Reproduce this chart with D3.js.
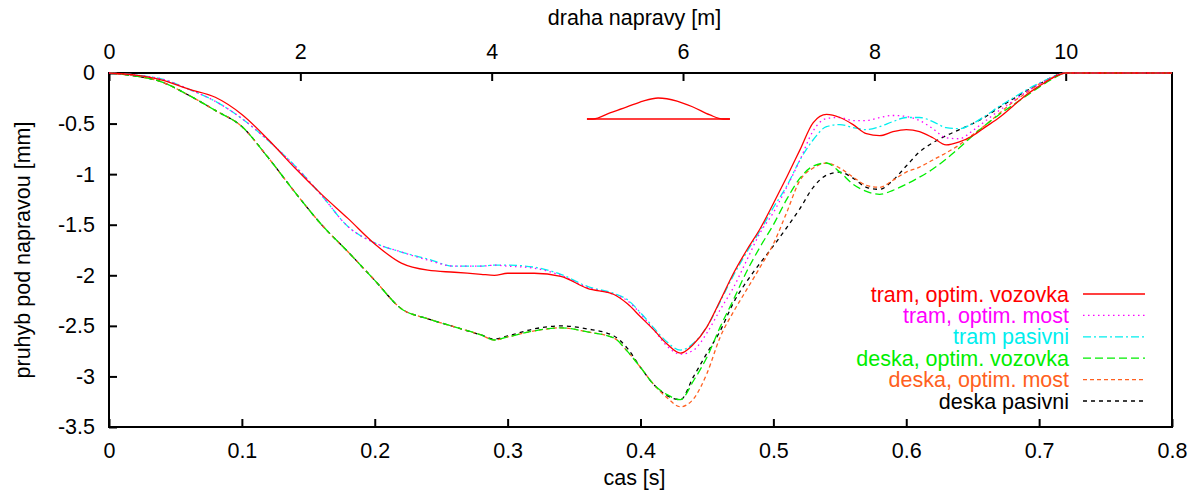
<!DOCTYPE html>
<html>
<head>
<meta charset="utf-8">
<script src="https://cdn.jsdelivr.net/npm/d3@7.9.0/dist/d3.min.js"></script>
<style>
  html, body { margin: 0; padding: 0; background: #fff; }
  svg { display: block; font-family: "Liberation Sans", Arial, sans-serif; }
</style>
</head>
<body>
<svg id="chart" width="1190" height="490"></svg>
<script>
// cas [s]
const cas = [0, 0.02, 0.04, 0.06, 0.08, 0.10, 0.12, 0.14, 0.16, 0.18, 0.20, 0.22, 0.24, 0.26, 0.28,
  0.29, 0.30, 0.32, 0.34, 0.36, 0.38, 0.39, 0.40, 0.41, 0.42,
  0.43, 0.44, 0.45, 0.46, 0.47, 0.48, 0.49, 0.50, 0.51, 0.52, 0.53, 0.54, 0.55, 0.56, 0.57,
  0.58, 0.59, 0.60, 0.61, 0.62, 0.63, 0.64, 0.65, 0.66, 0.67, 0.68, 0.69, 0.70, 0.71, 0.72,
  0.76, 0.80];

// pruhyb pod napravou [mm]
const tramVozovka = [0, -0.02, -0.07, -0.16, -0.24, -0.41, -0.66, -0.94, -1.20, -1.44, -1.69, -1.88, -1.95, -1.97, -1.99,
  -2.00, -1.98, -1.98, -2.01, -2.13, -2.19, -2.28, -2.41, -2.54, -2.68,
  -2.77, -2.68, -2.51, -2.25, -1.98, -1.75, -1.54, -1.29, -1.03, -0.76, -0.49, -0.41, -0.44, -0.51, -0.60,
  -0.62, -0.58, -0.56, -0.58, -0.64, -0.71, -0.68, -0.62, -0.53, -0.44, -0.33, -0.22, -0.13, -0.05, 0,
  0, 0];
const tramMost = [0, -0.02, -0.06, -0.16, -0.28, -0.45, -0.67, -0.92, -1.21, -1.52, -1.68, -1.77, -1.85, -1.91, -1.91,
  -1.90, -1.91, -1.93, -2.00, -2.12, -2.19, -2.25, -2.38, -2.54, -2.70,
  -2.78, -2.74, -2.57, -2.34, -2.12, -1.85, -1.58, -1.38, -1.13, -0.86, -0.57, -0.45, -0.44, -0.47, -0.47,
  -0.44, -0.42, -0.43, -0.47, -0.55, -0.64, -0.65, -0.57, -0.47, -0.37, -0.28, -0.19, -0.11, -0.045, 0,
  0, 0];
const tramPasivni = [0, -0.02, -0.06, -0.16, -0.28, -0.45, -0.67, -0.92, -1.21, -1.52, -1.68, -1.77, -1.84, -1.91, -1.91,
  -1.90, -1.90, -1.92, -1.99, -2.11, -2.18, -2.24, -2.37, -2.52, -2.66,
  -2.74, -2.67, -2.51, -2.26, -2.00, -1.77, -1.56, -1.33, -1.12, -0.86, -0.66, -0.53, -0.51, -0.54, -0.56,
  -0.53, -0.48, -0.44, -0.44, -0.48, -0.54, -0.55, -0.50, -0.42, -0.33, -0.25, -0.17, -0.10, -0.04, 0,
  0, 0];
const deskaVozovka = [0, -0.03, -0.09, -0.22, -0.37, -0.53, -0.84, -1.18, -1.50, -1.77, -2.05, -2.33, -2.43, -2.51, -2.59,
  -2.64, -2.61, -2.55, -2.52, -2.56, -2.62, -2.75, -2.91, -3.08, -3.18,
  -3.23, -3.04, -2.81, -2.51, -2.24, -1.96, -1.72, -1.50, -1.25, -1.04, -0.92, -0.89, -0.98, -1.10, -1.17,
  -1.20, -1.16, -1.10, -1.03, -0.95, -0.85, -0.74, -0.62, -0.51, -0.41, -0.32, -0.23, -0.14, -0.06, 0,
  0, 0];
const deskaMost = [0, -0.03, -0.09, -0.22, -0.37, -0.53, -0.84, -1.18, -1.50, -1.77, -2.05, -2.33, -2.43, -2.51, -2.59,
  -2.64, -2.61, -2.55, -2.52, -2.56, -2.62, -2.75, -2.91, -3.08, -3.21,
  -3.30, -3.22, -2.97, -2.61, -2.36, -2.14, -1.92, -1.69, -1.38, -1.06, -0.94, -0.89, -0.94, -1.03, -1.11,
  -1.13, -1.06, -0.98, -0.93, -0.86, -0.79, -0.71, -0.61, -0.51, -0.40, -0.29, -0.20, -0.11, -0.045, 0,
  0, 0];
const deskaPasivni = [0, -0.03, -0.09, -0.22, -0.37, -0.53, -0.84, -1.18, -1.50, -1.77, -2.05, -2.33, -2.43, -2.51, -2.59,
  -2.63, -2.60, -2.53, -2.50, -2.53, -2.60, -2.72, -2.91, -3.08, -3.19,
  -3.23, -3.00, -2.77, -2.55, -2.27, -2.06, -1.88, -1.71, -1.53, -1.34, -1.13, -1.01, -0.98, -1.04, -1.13,
  -1.15, -1.06, -0.92, -0.78, -0.69, -0.62, -0.56, -0.50, -0.43, -0.34, -0.26, -0.18, -0.11, -0.04, 0,
  0, 0];

// inset: tvar nerovnosti (in plot units)
const bumpCas = [0.3597, 0.3643, 0.3770, 0.3898, 0.4019, 0.4132, 0.4275, 0.4395, 0.4523, 0.4621, 0.4673];
const bumpPruhyb = [-0.455, -0.455, -0.395, -0.336, -0.277, -0.247, -0.277, -0.336, -0.415, -0.455, -0.455];

const casTicks = [0, 0.1, 0.2, 0.3, 0.4, 0.5, 0.6, 0.7, 0.8];
const drahaTicks = [0, 2, 4, 6, 8, 10];
const pruhybTicks = [0, -0.5, -1, -1.5, -2, -2.5, -3, -3.5];

const seriesNames = ['tram, optim. vozovka', 'tram, optim. most', 'tram pasivni',
  'deska, optim. vozovka', 'deska, optim. most', 'deska pasivni'];
const seriesValues = [tramVozovka, tramMost, tramPasivni, deskaVozovka, deskaMost, deskaPasivni];
const seriesColors = ['#ff0000', '#ff00ff', '#00eeee', '#00ee00', '#ff6020', '#000000'];
const seriesDash = [null, '1.5,3.5', '8,3,2,3', '8,4', '4,3', '4,4'];

const svg = d3.select('#chart');
const margin = { left: 109, right: 18, top: 73, bottom: 63 };
const W = 1190, H = 490;
const fontSize = 21.5;

const x = d3.scaleLinear().domain([0, 0.8]).range([margin.left, W - margin.right]);
const x2 = d3.scaleLinear().domain([0, 0.8 * 50 / 3.6]).range([margin.left, W - margin.right]);
const y = d3.scaleLinear().domain([-3.5, 0]).range([H - margin.bottom, margin.top]);

const fmt = (d) => String(d);

const gx = svg.append('g')
  .attr('transform', `translate(0,${y(-3.5)})`)
  .call(d3.axisBottom(x).tickValues(casTicks).tickFormat(fmt).tickSizeInner(-8).tickSizeOuter(0).tickPadding(16));
const gx2 = svg.append('g')
  .attr('transform', `translate(0,${y(0)})`)
  .call(d3.axisTop(x2).tickValues(drahaTicks).tickFormat(fmt).tickSizeInner(-8).tickSizeOuter(0).tickPadding(14));
const gy = svg.append('g')
  .attr('transform', `translate(${x(0)},0)`)
  .call(d3.axisLeft(y).tickValues(pruhybTicks).tickFormat(fmt).tickSizeInner(-8).tickSizeOuter(0).tickPadding(14));

[gx, gx2, gy].forEach((g) => {
  g.select('.domain').remove();
  g.selectAll('.tick line').attr('stroke', '#000').attr('stroke-width', 2);
  g.selectAll('.tick text').attr('fill', '#000').style('font-size', fontSize + 'px')
    .style('font-family', '"Liberation Sans", Arial, sans-serif');
});

// frame
svg.append('rect')
  .attr('x', x(0)).attr('y', y(0))
  .attr('width', x(0.8) - x(0)).attr('height', y(-3.5) - y(0))
  .attr('fill', 'none').attr('stroke', '#000').attr('stroke-width', 2);

// axis titles
svg.append('text').attr('x', (x(0) + x(0.8)) / 2 - 6).attr('y', 25)
  .attr('text-anchor', 'middle').style('font-size', fontSize + 'px').text('draha napravy [m]');
svg.append('text').attr('x', (x(0) + x(0.8)) / 2 - 6).attr('y', 485)
  .attr('text-anchor', 'middle').style('font-size', fontSize + 'px').text('cas [s]');
svg.append('text').attr('transform', 'translate(30,250) rotate(-90)')
  .attr('text-anchor', 'middle').style('font-size', fontSize + 'px').text('pruhyb pod napravou [mm]');

// inset bump
const bumpLine = d3.line().x((d, i) => x(bumpCas[i])).y((d) => y(d)).curve(d3.curveMonotoneX);
svg.append('path').attr('d', bumpLine(bumpPruhyb))
  .attr('fill', 'none').attr('stroke', '#ff0000').attr('stroke-width', 1.3);
svg.append('line')
  .attr('x1', x(bumpCas[0])).attr('x2', x(bumpCas[bumpCas.length - 1]))
  .attr('y1', y(bumpPruhyb[0])).attr('y2', y(bumpPruhyb[0]))
  .attr('stroke', '#ff0000').attr('stroke-width', 1.3);

// series (last first so red ends on top)
const line = d3.line().x((d, i) => x(cas[i])).y((d) => y(d)).curve(d3.curveMonotoneX);
for (let s = seriesValues.length - 1; s >= 0; s--) {
  svg.append('path')
    .attr('d', line(seriesValues[s]))
    .attr('fill', 'none')
    .attr('stroke', seriesColors[s])
    .attr('stroke-width', 1.3)
    .attr('stroke-dasharray', seriesDash[s]);
}

// legend
const legend = svg.append('g');
seriesNames.forEach((name, i) => {
  const ly = 294 + i * 21.4;
  legend.append('text')
    .attr('x', 1069).attr('y', ly).attr('dy', '0.35em')
    .attr('text-anchor', 'end')
    .attr('fill', seriesColors[i])
    .style('font-size', fontSize + 'px')
    .text(name);
  legend.append('line')
    .attr('x1', 1083).attr('x2', 1145).attr('y1', ly).attr('y2', ly)
    .attr('stroke', seriesColors[i]).attr('stroke-width', 1.3)
    .attr('stroke-dasharray', seriesDash[i]);
});
</script>
</body>
</html>
